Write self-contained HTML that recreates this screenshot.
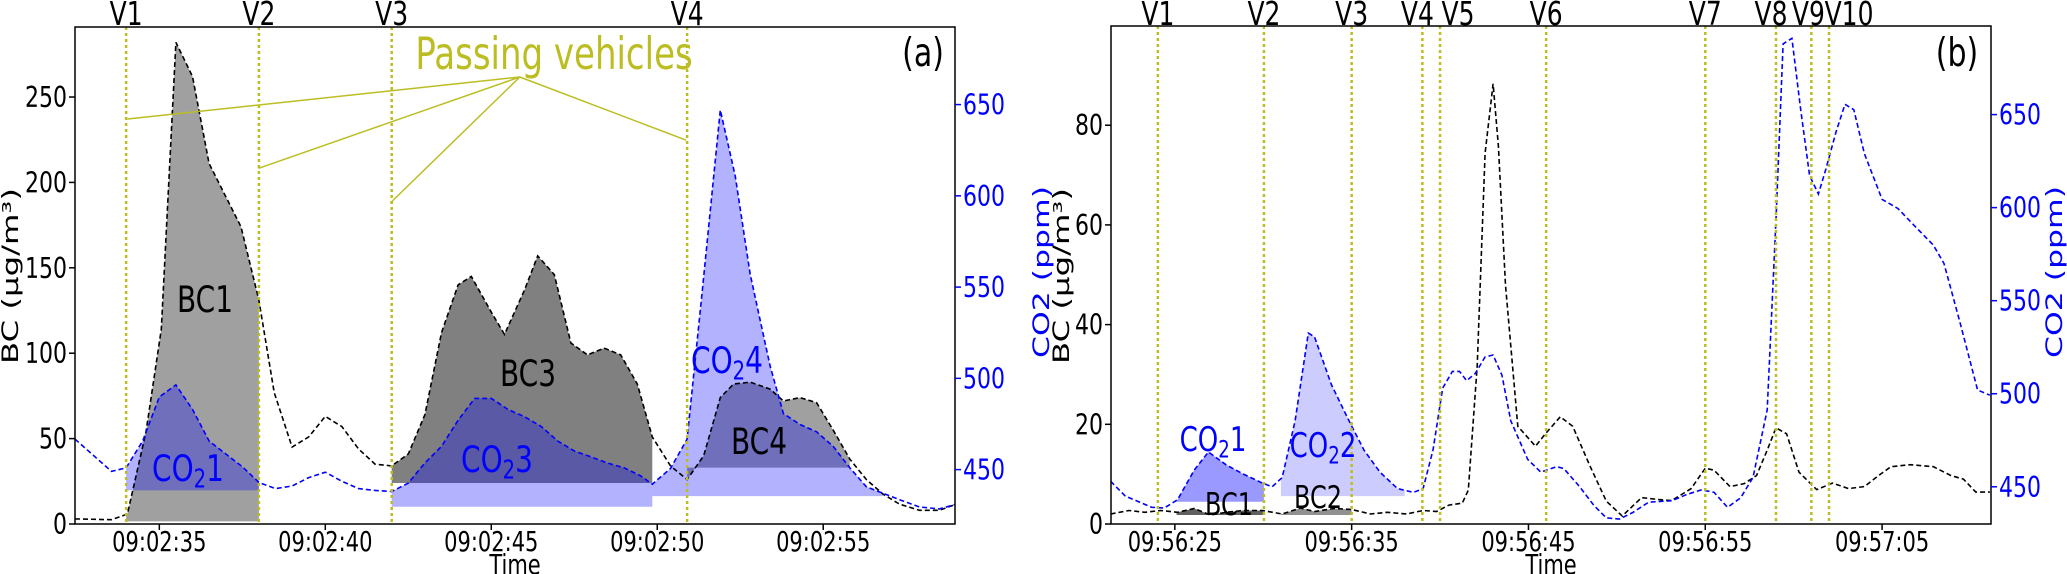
<!DOCTYPE html>
<html><head><meta charset="utf-8"><style>
html,body{margin:0;padding:0;background:#fff;}
svg{display:block;font-family:"DejaVu Sans","Liberation Sans",sans-serif;}
</style></head><body>
<svg id="chart" width="2067" height="574" viewBox="0 0 2067 574" xmlns="http://www.w3.org/2000/svg"></svg>
<script>
// ---- Panel (a) data ----
const aT = [32.46,33.56,34.04,34.6,35.06,35.5,36,36.5,37.46,38,38.46,39,39.5,40,40.5,41,41.5,42,42.5,43,43.5,44,44.4,45,45.4,46,46.4,46.9,47.4,47.9,48.4,48.9,49.4,49.85,50.4,50.9,51.4,51.9,52.3,52.8,53.4,53.8,54.3,54.8,55.3,55.8,56.3,56.8,57.3,57.9,58.5,59];
const aBC = [3,2.5,5.8,54,114,282,262,211,174,131,77,45,51,63,57,44,35,34,41,64,112,140,145,124,111,137,157,146,106,99,103,99,82,51,34,26,40,74,82,83,79,72,74,71,55,38,26,17.5,11.6,8,8,11.6];
const aCO2T = [32.46,33.56,34,34.5,35,35.5,36,36.5,37,37.5,38,38.5,39,39.5,40,40.5,41,41.5,42,42.5,43,43.5,44,44.5,45,45.5,46,46.5,47,47.5,48,48.5,49,49.5,49.85,50.4,50.9,51.35,51.9,52.35,52.8,53.4,53.8,54.3,54.8,55.3,55.8,56.3,56.8,57.3,57.9,58.5,59];
const aCO2 = [466.7,449,451,465.7,489.8,496.4,483,465.7,458.6,451.6,443,439.6,441,445.6,448.6,443.6,439.6,438.6,438,442.6,453.6,462.7,477,489,489,483,479,473.7,465.7,460.2,457,453.6,451,446.6,442,450.6,466.7,547,647,611,557,506.8,480.7,474.7,470.7,462.7,451,440.6,437,433.5,429.5,428.5,431];
const aVehicles = [34,38,42,50.9];
const aVLabels = ["V1","V2","V3","V4"];
const aXTicks = [35,40,45,50,55];
const aXLabels = ["09:02:35","09:02:40","09:02:45","09:02:50","09:02:55"];
const aYTicks = [0,50,100,150,200,250];
const aY2Ticks = [450,500,550,600,650];

// ---- Panel (b) data ----
const bT = [21.37,22.4,23.3,24.2,25.15,26.1,27,27.9,28.85,29.96,31.07,32.1,32.9,34,35,36.07,37,38.1,39.04,39.8,40.5,41.26,41.6,42.1,42.55,43,43.3,43.7,44.4,45.4,45.96,46.8,47.5,48.5,49.4,50.3,51.4,52.4,53.1,54.2,55,55.5,56.4,57.2,57.9,58.5,59,59.6,60.3,61.3,62.2,63.1,64,64.8,65.5,66.6,67.9,68.9,69.6,70.3,71.1];
const bBC = [2,2.7,2.35,2.7,2.35,3.1,1.8,2.35,2.7,2.7,2,3.2,2.5,3.1,2.9,2,2.35,2,2.7,2.5,3.8,4.2,6.8,31.7,74.4,88.3,75.8,47.9,19.6,15.6,18.1,21.5,19.6,11.5,4.6,1.6,5.3,4.9,4.7,7.1,11.2,10.8,7.5,8.1,9.7,14.8,19.3,18.1,10.4,6.9,8.2,7.1,7.5,9.7,11.5,11.9,11.5,9.7,9,6.4,6.4];
const bCO2T = [21.37,22.2,23.7,24.4,25.15,26.1,26.9,27.9,28.85,29.96,30.5,31.07,31.8,32.55,32.9,33.85,34.8,35.7,36.6,37.6,38.5,39.04,39.6,40.15,40.7,41.1,41.5,42,42.55,43,43.5,44,44.96,45.7,46.6,47,47.9,48.7,49.4,50.15,50.9,51.8,53.1,54,54.8,55.5,56.26,57,57.7,58.5,59,59.4,59.9,60.4,60.9,61.4,61.8,62.4,62.9,63.4,64,65,65.9,67,67.9,68.5,69.4,70.4,71.1];
const bCO2 = [453,445,439,438.6,443,459,468.7,461.8,456.9,452,450,455,485.4,532.6,530.6,505,486.4,469.7,457.9,449,447,449,469.7,503,512,512,507,511,519.8,520.8,510,485.4,464.7,457.9,460.8,459.8,450,440,433.3,432.7,436.2,441.7,442.5,446,448.4,447,439,444,455,491.3,593.6,688,691,652.6,617.2,607.3,620,640.8,655.5,652.6,629,604.4,599.5,588.6,579.8,570,538.5,502,499.2];
const bVehicles = [24.04,30.04,35,39,40,46,55,59,61,62];
const bVLabels = ["V1","V2","V3","V4","V5","V6","V7","V8","V9","V10"];
const bVOffsets = [0,0,0,-5,18,0,0,-5,-3,20];
const bXTicks = [25,35,45,55,65];
const bXLabels = ["09:56:25","09:56:35","09:56:45","09:56:55","09:57:05"];
const bYTicks = [0,20,40,60,80];
const bY2Ticks = [450,500,550,600,650];

const NS = "http://www.w3.org/2000/svg";
const SY = 1.3;
const svg = document.getElementById('chart');
function mk(tag, attrs, parent, text){
  const e = document.createElementNS(NS, tag);
  for (const k in attrs) e.setAttribute(k, attrs[k]);
  if (text !== undefined) e.textContent = text;
  (parent || svg).appendChild(e);
  return e;
}
function txt(parent, x, y, fs, str, anchor, fill){
  return mk('text', {x:0, y:0, 'font-size':fs, 'text-anchor':anchor||'middle', fill:fill||'#000',
    transform:'translate('+x+' '+y+') scale(1 '+SY+')'}, parent, str);
}
function lin(d0,d1,r0,r1){ return v => r0 + (v-d0)*(r1-r0)/(d1-d0); }
function interp(ts, vs, t){
  if (t <= ts[0]) return vs[0];
  for (let i=1;i<ts.length;i++){ if (t <= ts[i]) { const f=(t-ts[i-1])/(ts[i]-ts[i-1]); return vs[i-1]+f*(vs[i]-vs[i-1]); } }
  return vs[vs.length-1];
}
function fillPts(ts, vs, t0, t1, base, X, Y){
  const pts = [[X(t0), Y(interp(ts,vs,t0))]];
  for (let i=0;i<ts.length;i++) if (ts[i]>t0 && ts[i]<t1) pts.push([X(ts[i]), Y(vs[i])]);
  pts.push([X(t1), Y(interp(ts,vs,t1))]);
  pts.push([X(t1), Y(base)]); pts.push([X(t0), Y(base)]);
  return pts.map(p=>p[0].toFixed(1)+','+p[1].toFixed(1)).join(' ');
}
function linePts(ts, vs, X, Y){ return ts.map((t,i)=>X(t).toFixed(1)+','+Y(vs[i]).toFixed(1)).join(' '); }

function panel(cfg){
  const g = mk('g', {});
  
  
  const {L,R,T,B} = cfg;
  const X = lin(cfg.t0, cfg.t1, L, R);
  const Y = lin(0, cfg.bcMax, B, T);
  const Y2 = lin(cfg.co2Min, cfg.co2Max, B, T);
  const clip = mk('clipPath', {id: cfg.name+'-clip'}, g);
  mk('rect', {x:L, y:T, width:R-L, height:B-T}, clip);
  const plot = mk('g', {'clip-path':'url(#'+cfg.name+'-clip)'}, g);
  cfg.bcFills.forEach(f=>{
    const p = mk('polygon', {points: fillPts(cfg.bcT, cfg.bc, f.t0, f.t1, f.base, X, Y), fill: f.color}, plot);
    
    
  });
  cfg.co2Fills.forEach(f=>{
    const p = mk('polygon', {points: fillPts(cfg.co2T, cfg.co2, f.t0, f.t1, f.base, X, Y2), fill: 'rgb(0,0,255)', 'fill-opacity': f.alpha}, plot);
    
    
  });
  const lb = mk('polyline', {points: linePts(cfg.bcT, cfg.bc, X, Y), fill:'none', stroke:'#000', 'stroke-width':1.6, 'stroke-dasharray':'5,3'}, plot);
  
  
  const lc = mk('polyline', {points: linePts(cfg.co2T, cfg.co2, X, Y2), fill:'none', stroke:'#0000ff', 'stroke-width':1.6, 'stroke-dasharray':'5,3'}, plot);
  
  
  cfg.veh.forEach((t,i)=>{
    const v = mk('line', {x1:X(t), x2:X(t), y1:T, y2:B, stroke:'#bcbd22', 'stroke-width':2.5, 'stroke-dasharray':'3,3'}, g);
    
    
    const off = cfg.voff ? cfg.voff[i] : 0;
    const tl = txt(g, X(t)+off, 25, 25, cfg.vlab[i]);
    
    
  });
  const fr = mk('rect', {x:L, y:T, width:R-L, height:B-T, fill:'none', stroke:'#000', 'stroke-width':1.5}, g);
  
  
  cfg.xt.forEach((t,i)=>{
    mk('line', {x1:X(t), x2:X(t), y1:B, y2:B+6, stroke:'#000', 'stroke-width':1.5}, g);
    const tx = txt(g, X(t), 551, 21, cfg.xl[i]);
    
    
  });
  cfg.yt.forEach(v=>{
    mk('line', {x1:L-6, x2:L, y1:Y(v), y2:Y(v), stroke:'#000', 'stroke-width':1.5}, g);
    const tx = txt(g, L-8, Y(v)+10, 22, String(v), 'end');
    
    
  });
  cfg.y2t.forEach(v=>{
    mk('line', {x1:R, x2:R+6, y1:Y2(v), y2:Y2(v), stroke:'#0000ff', 'stroke-width':1.5}, g);
    const tx = txt(g, R+8, Y2(v)+10, 22, String(v), 'start', '#0000ff');
    
    
  });
  const xt = txt(g, (L+R)/2, 574, 21, 'Time');
  
  
  const yt = mk('text', {x:cfg.ylx, y:276, 'font-size':22, 'text-anchor':'middle', textLength:176, lengthAdjust:'spacingAndGlyphs', transform:'rotate(-90 '+cfg.ylx+' 276)'}, g, 'BC (µg/m³)');
  
  
  const y2 = mk('text', {x:cfg.y2lx, y:272, 'font-size':22, fill:'#0000ff', 'text-anchor':'middle', textLength:172, lengthAdjust:'spacingAndGlyphs', transform:'rotate(-90 '+cfg.y2lx+' 272)'}, g, 'CO2 (ppm)');
  
  
  const pl = txt(g, cfg.plx, 66, 30, cfg.plab);
  
  
  cfg.labels.forEach(lab=>{
    const tx = mk('text', {x:0, y:0, 'font-size':lab.fs, fill:lab.c, 'text-anchor':'middle', transform:'translate('+lab.x+' '+lab.y+') scale(1 '+SY+')'}, g);
    
    
    if (lab.sub){
      tx.appendChild(document.createTextNode('CO'));
      mk('tspan', {'font-size':lab.fs*0.7, dy:5}, tx, '2');
      mk('tspan', {dy:-5}, tx, lab.n);
    } else tx.textContent = lab.t;
  });
  return {g,X,Y};
}

panel({name:'panel-a', L:75, R:955, T:27, B:524, t0:32.46, t1:58.97, bcMax:291, co2Min:420.2, co2Max:692.5,
  bcT:aT, bc:aBC, co2T:aCO2T, co2:aCO2, veh:aVehicles, vlab:aVLabels, xt:aXTicks, xl:aXLabels, yt:aYTicks, y2t:aY2Ticks,
  ylx:18, y2lx:1049, plx:923, plab:'(a)',
  bcFills:[{name:'bc1-area',t0:34,t1:38,base:1.5,color:'#a0a0a0'},{name:'bc3-area',t0:42,t1:49.85,base:24,color:'#808080'},{name:'bc4-area',t0:50.9,t1:55.8,base:33,color:'#a0a0a0'}],
  co2Fills:[{name:'co2-1-area',t0:34,t1:38,base:438.6,alpha:0.3},{name:'co2-3-area',t0:42,t1:49.85,base:429.7,alpha:0.3},{name:'co2-4-area',t0:49.85,t1:56.8,base:435.5,alpha:0.3}],
  labels:[{name:'bc1-label',x:205,y:312,fs:28,c:'#000',t:'BC1'},{name:'bc3-label',x:528,y:386,fs:28,c:'#000',t:'BC3'},{name:'bc4-label',x:759,y:454,fs:28,c:'#000',t:'BC4'},
    {name:'co2-1-label',x:188,y:481,fs:28,c:'#0000ff',sub:1,n:'1'},{name:'co2-3-label',x:497,y:472,fs:28,c:'#0000ff',sub:1,n:'3'},{name:'co2-4-label',x:727,y:373,fs:28,c:'#0000ff',sub:1,n:'4'}]
});
const ann = mk('g', {});


const annTargets = [[127.6,119],[258.3,168.4],[390.3,203],[686.2,140.2]];
annTargets.forEach(p=>{ mk('line', {x1:519.8, y1:77, x2:p[0], y2:p[1], stroke:'#bcbd22', 'stroke-width':1.5}, ann); });
const at = txt(ann, 554, 69, 34, 'Passing vehicles', 'middle', '#bcbd22');



panel({name:'panel-b', L:1111, R:1991, T:26, B:524, t0:21.39, t1:71.16, bcMax:99.9, co2Min:430, co2Max:697.6,
  bcT:bT, bc:bBC, co2T:bCO2T, co2:bCO2, veh:bVehicles, vlab:bVLabels, voff:bVOffsets, xt:bXTicks, xl:bXLabels, yt:bYTicks, y2t:bY2Ticks,
  ylx:1069, y2lx:2062, plx:1957, plab:'(b)',
  bcFills:[{name:'bc1-area',t0:25.1,t1:30,base:1.8,color:'#606060'},{name:'bc2-area',t0:31,t1:35,base:1.8,color:'#909090'}],
  co2Fills:[{name:'co2-1-area',t0:25.1,t1:30.04,base:442,alpha:0.4},{name:'co2-2-area',t0:31,t1:38,base:445,alpha:0.2}],
  labels:[{name:'bc1-label',x:1229,y:515,fs:24,c:'#000',t:'BC1'},{name:'bc2-label',x:1318,y:508,fs:24,c:'#000',t:'BC2'},
    {name:'co2-1-label',x:1213,y:451,fs:26,c:'#0000ff',sub:1,n:'1'},{name:'co2-2-label',x:1323,y:457,fs:26,c:'#0000ff',sub:1,n:'2'}]
});
</script>
</body></html>
